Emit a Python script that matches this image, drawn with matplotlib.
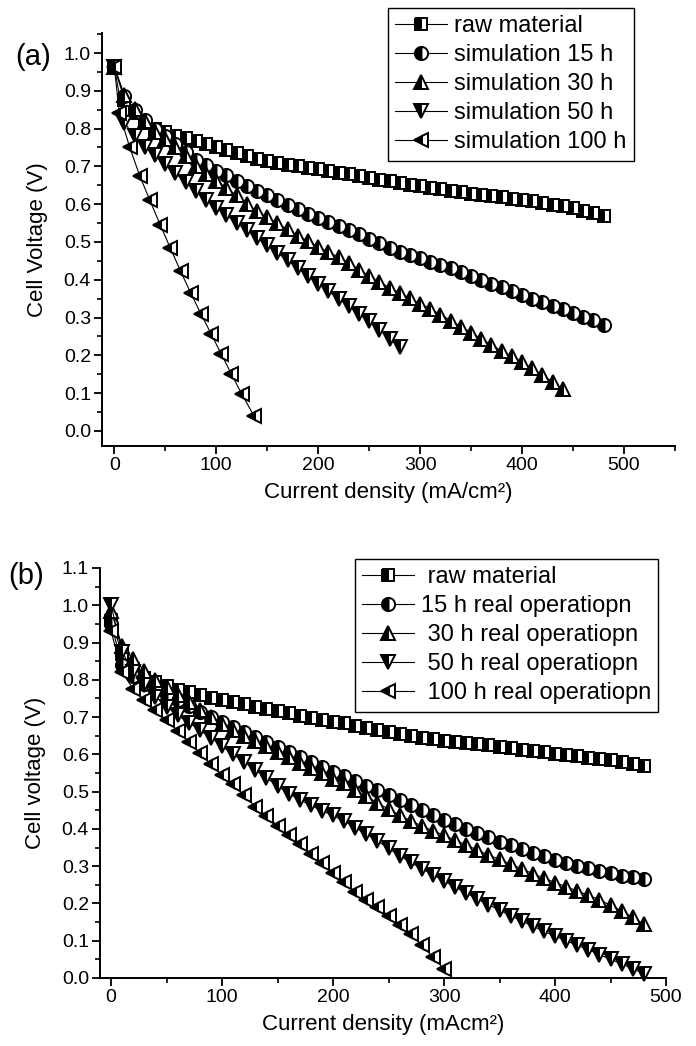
import matplotlib
matplotlib.use("Agg")
import matplotlib.pyplot as plt
from matplotlib.ticker import MultipleLocator, FormatStrFormatter

plt.rcParams["font.family"] = ["Liberation Sans", "DejaVu Sans"]

# current density grid (mA/cm2), 10 mA steps
current_grid = [0, 10, 20, 30, 40, 50, 60, 70, 80, 90,
                100, 110, 120, 130, 140, 150, 160, 170, 180, 190,
                200, 210, 220, 230, 240, 250, 260, 270, 280, 290,
                300, 310, 320, 330, 340, 350, 360, 370, 380, 390,
                400, 410, 420, 430, 440, 450, 460, 470, 480]

# ---- (a) simulation ----
va_raw = [0.964, 0.877, 0.842, 0.815, 0.800, 0.790, 0.781, 0.774, 0.767, 0.759,
          0.751, 0.743, 0.735, 0.727, 0.720, 0.714, 0.709, 0.704, 0.700, 0.696,
          0.692, 0.688, 0.683, 0.679, 0.674, 0.670, 0.665, 0.661, 0.656, 0.652,
          0.648, 0.644, 0.640, 0.636, 0.632, 0.628, 0.624, 0.621, 0.618, 0.615,
          0.612, 0.608, 0.604, 0.599, 0.594, 0.589, 0.583, 0.577, 0.570]
va_15h = [0.964, 0.885, 0.850, 0.823, 0.800, 0.780, 0.760, 0.738, 0.717, 0.703,
          0.689, 0.676, 0.662, 0.648, 0.636, 0.623, 0.610, 0.598, 0.587, 0.575,
          0.564, 0.553, 0.542, 0.532, 0.521, 0.508, 0.496, 0.484, 0.474, 0.465,
          0.457, 0.448, 0.439, 0.430, 0.420, 0.410, 0.400, 0.390, 0.380, 0.370,
          0.360, 0.350, 0.341, 0.331, 0.322, 0.312, 0.302, 0.293, 0.281]
va_30h = [0.964, 0.888, 0.851, 0.820, 0.792, 0.772, 0.752, 0.727, 0.700, 0.681,
          0.662, 0.643, 0.623, 0.600, 0.582, 0.565, 0.549, 0.533, 0.517, 0.502,
          0.487, 0.473, 0.460, 0.444, 0.427, 0.410, 0.394, 0.379, 0.365, 0.351,
          0.337, 0.323, 0.308, 0.292, 0.276, 0.260, 0.244, 0.227, 0.212, 0.197,
          0.182, 0.166, 0.148, 0.130, 0.110]
va_50h = [0.964, 0.815, 0.780, 0.752, 0.729, 0.705, 0.682, 0.659, 0.636, 0.612,
          0.591, 0.571, 0.551, 0.531, 0.511, 0.491, 0.471, 0.451, 0.431, 0.411,
          0.390, 0.370, 0.350, 0.330, 0.310, 0.290, 0.268, 0.244, 0.222]
ia_100h = [0, 5, 15, 25, 35, 45, 55, 65, 75, 85, 95, 105, 115, 125, 137]
va_100h = [0.964, 0.842, 0.752, 0.675, 0.610, 0.546, 0.484, 0.423, 0.365, 0.310,
           0.257, 0.203, 0.150, 0.098, 0.040]
labels_a = ["raw material", "simulation 15 h", "simulation 30 h",
            "simulation 50 h", "simulation 100 h"]

# ---- (b) real operation ----
vb_raw = [0.960, 0.870, 0.830, 0.805, 0.794, 0.783, 0.774, 0.767, 0.760, 0.752,
          0.746, 0.740, 0.734, 0.728, 0.722, 0.716, 0.710, 0.704, 0.698, 0.693,
          0.688, 0.683, 0.677, 0.671, 0.665, 0.659, 0.654, 0.649, 0.645, 0.641,
          0.637, 0.634, 0.631, 0.628, 0.624, 0.620, 0.616, 0.612, 0.609, 0.606,
          0.602, 0.599, 0.595, 0.591, 0.588, 0.584, 0.580, 0.575, 0.570]
vb_15h = [0.950, 0.840, 0.810, 0.790, 0.775, 0.760, 0.745, 0.730, 0.715, 0.700,
          0.687, 0.673, 0.660, 0.646, 0.633, 0.620, 0.606, 0.593, 0.580, 0.567,
          0.554, 0.542, 0.529, 0.516, 0.504, 0.491, 0.477, 0.464, 0.450, 0.437,
          0.424, 0.412, 0.400, 0.388, 0.377, 0.366, 0.356, 0.345, 0.335, 0.326,
          0.317, 0.309, 0.301, 0.294, 0.287, 0.281, 0.275, 0.270, 0.265]
vb_30h = [0.985, 0.890, 0.855, 0.825, 0.800, 0.780, 0.760, 0.740, 0.720, 0.700,
          0.682, 0.666, 0.650, 0.636, 0.622, 0.607, 0.592, 0.578, 0.563, 0.549,
          0.535, 0.522, 0.505, 0.487, 0.470, 0.453, 0.437, 0.422, 0.408, 0.395,
          0.383, 0.370, 0.357, 0.343, 0.330, 0.318, 0.306, 0.293, 0.280, 0.268,
          0.256, 0.245, 0.233, 0.222, 0.210, 0.195, 0.180, 0.163, 0.145]
vb_50h = [1.000, 0.875, 0.820, 0.785, 0.755, 0.728, 0.705, 0.685, 0.665, 0.645,
          0.622, 0.600, 0.580, 0.558, 0.537, 0.516, 0.495, 0.478, 0.463, 0.449,
          0.436, 0.421, 0.403, 0.386, 0.368, 0.348, 0.328, 0.310, 0.293, 0.277,
          0.260, 0.244, 0.228, 0.212, 0.197, 0.182, 0.167, 0.153, 0.139, 0.125,
          0.112, 0.100, 0.088, 0.076, 0.063, 0.050, 0.038, 0.025, 0.012]
vb_100h = [0.930, 0.820, 0.775, 0.745, 0.718, 0.692, 0.664, 0.634, 0.604, 0.573,
           0.545, 0.520, 0.490, 0.460, 0.434, 0.409, 0.384, 0.360, 0.334, 0.308,
           0.283, 0.257, 0.232, 0.210, 0.190, 0.167, 0.143, 0.118, 0.088, 0.056,
           0.024]
labels_b = [" raw material", "15 h real operatiopn", " 30 h real operatiopn",
            " 50 h real operatiopn", " 100 h real operatiopn"]

markers = ["s", "o", "^", "v", "<"]
msizes = [8.5, 9.5, 9.5, 9.5, 9.5]

W, H = 696, 1046
fig = plt.figure(figsize=(W / 100, H / 100), dpi=100)


def style_axis(ax, xlim, ylim, xlabel, ylabel):
    ax.set_xlim(*xlim)
    ax.set_ylim(*ylim)
    for s in ("top", "right"):
        ax.spines[s].set_visible(False)
    for s in ("left", "bottom"):
        ax.spines[s].set_linewidth(1.4)
    ax.xaxis.set_major_locator(MultipleLocator(100))
    ax.xaxis.set_minor_locator(MultipleLocator(50))
    ax.yaxis.set_major_locator(MultipleLocator(0.1))
    ax.yaxis.set_minor_locator(MultipleLocator(0.05))
    ax.yaxis.set_major_formatter(FormatStrFormatter("%.1f"))
    ax.tick_params(which="major", direction="out", length=6, width=1.3,
                   labelsize=14, pad=2)
    ax.tick_params(which="minor", direction="out", length=3.5, width=1.2)
    ax.set_xlabel(xlabel, fontsize=16, labelpad=6)
    ax.set_ylabel(ylabel, fontsize=16, labelpad=11)


def draw(ax, xs, ys, labels):
    for x, y, m, s, lab in zip(xs, ys, markers, msizes, labels):
        ax.plot(x, y, color="black", lw=0.8, marker=m, ms=s, mew=1.4,
                mec="black", mfc="black", markerfacecoloralt="white",
                fillstyle="left", label=lab, clip_on=False)


def add_legend(ax, x0, y0):
    leg = ax.legend(loc="upper left", bbox_to_anchor=(x0 / W, 1 - y0 / H),
                    bbox_transform=fig.transFigure, fontsize=17,
                    fancybox=False, edgecolor="black", framealpha=1,
                    borderpad=0.3, labelspacing=0.3, handlelength=2.2,
                    handletextpad=0.3, borderaxespad=0)
    leg.get_frame().set_linewidth(1.0)


# panel (a)
ax_a = fig.add_axes([102 / W, 1 - 446 / H, (675 - 102) / W, (446 - 33) / H])
draw(ax_a,
     [current_grid[:len(va_raw)], current_grid[:len(va_15h)],
      current_grid[:len(va_30h)], current_grid[:len(va_50h)], ia_100h],
     [va_raw, va_15h, va_30h, va_50h, va_100h], labels_a)
style_axis(ax_a, (-12, 550), (-0.04, 1.053),
           "Current density (mA/cm²)", "Cell Voltage (V)")
add_legend(ax_a, 388, 8)
fig.text(33 / W, 1 - 57 / H, "(a)", fontsize=21, ha="center", va="center")

# panel (b)
ax_b = fig.add_axes([100 / W, 1 - 978 / H, (666 - 100) / W, (978 - 568) / H])
draw(ax_b,
     [current_grid[:len(vb_raw)], current_grid[:len(vb_15h)],
      current_grid[:len(vb_30h)], current_grid[:len(vb_50h)],
      current_grid[:len(vb_100h)]],
     [vb_raw, vb_15h, vb_30h, vb_50h, vb_100h], labels_b)
style_axis(ax_b, (-10, 500), (0, 1.1),
           "Current density (mAcm²)", "Cell voltage (V)")
add_legend(ax_b, 355, 559)
fig.text(26 / W, 1 - 576 / H, "(b)", fontsize=21, ha="center", va="center")

fig.savefig("out.png", dpi=100)
